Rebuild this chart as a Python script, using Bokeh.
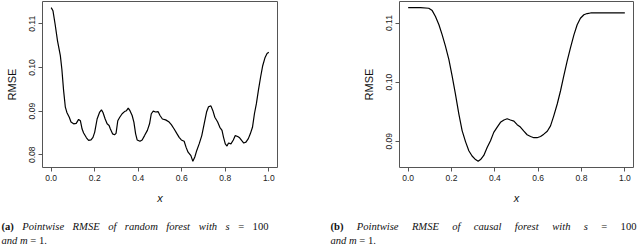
from bokeh.plotting import figure
from bokeh.models import Range1d, FixedTicker, Label
from bokeh.layouts import row, column
from bokeh.embed import file_html
from bokeh.resources import INLINE

# ---------------- data ----------------
rf_x = [0.000, 0.008, 0.018, 0.029, 0.042, 0.049, 0.057, 0.065, 0.072, 0.083,
        0.091, 0.103, 0.115, 0.126, 0.134, 0.142, 0.149, 0.162, 0.172, 0.183,
        0.192, 0.200, 0.211, 0.222, 0.231, 0.238, 0.248, 0.257, 0.266, 0.272,
        0.282, 0.291, 0.298, 0.306, 0.315, 0.326, 0.337, 0.346, 0.354, 0.362,
        0.372, 0.380, 0.388, 0.395, 0.408, 0.418, 0.429, 0.442, 0.452, 0.460,
        0.469, 0.480, 0.491, 0.500, 0.511, 0.526, 0.542, 0.552, 0.565, 0.577,
        0.588, 0.598, 0.611, 0.620, 0.629, 0.642, 0.651, 0.660, 0.669, 0.680,
        0.692, 0.703, 0.714, 0.723, 0.734, 0.743, 0.752, 0.765, 0.775, 0.785,
        0.792, 0.800, 0.808, 0.815, 0.826, 0.837, 0.846, 0.857, 0.866, 0.875,
        0.885, 0.895, 0.906, 0.915, 0.925, 0.934, 0.943, 0.952, 0.962, 0.972,
        0.983, 0.992, 1.000]
rf_rmse = [0.1137, 0.1130, 0.1099, 0.1061, 0.1027, 0.0996, 0.0947, 0.0909, 0.0897, 0.0886,
           0.0875, 0.0871, 0.0872, 0.0881, 0.0878, 0.0859, 0.0850, 0.0839, 0.0833, 0.0834,
           0.0840, 0.0852, 0.0882, 0.0897, 0.0903, 0.0897, 0.0882, 0.0871, 0.0867, 0.0859,
           0.0848, 0.0846, 0.0849, 0.0878, 0.0886, 0.0894, 0.0899, 0.0901, 0.0907, 0.0901,
           0.0890, 0.0875, 0.0848, 0.0834, 0.0831, 0.0834, 0.0844, 0.0856, 0.0871, 0.0894,
           0.0900, 0.0898, 0.0899, 0.0890, 0.0882, 0.0880, 0.0875, 0.0869, 0.0859, 0.0849,
           0.0840, 0.0834, 0.0831, 0.0817, 0.0806, 0.0798, 0.0785, 0.0795, 0.0810, 0.0825,
           0.0844, 0.0871, 0.0898, 0.0910, 0.0912, 0.0901, 0.0886, 0.0875, 0.0863, 0.0856,
           0.0840, 0.0825, 0.0820, 0.0827, 0.0825, 0.0834, 0.0844, 0.0842, 0.0839, 0.0833,
           0.0827, 0.0829, 0.0837, 0.0848, 0.0863, 0.0894, 0.0917, 0.0947, 0.0977, 0.1004,
           0.1023, 0.1032, 0.1035]

cf_x = [0.000, 0.057, 0.095, 0.111, 0.126, 0.142, 0.157, 0.172, 0.188, 0.203,
        0.218, 0.234, 0.249, 0.265, 0.280, 0.295, 0.311, 0.323, 0.334, 0.349,
        0.365, 0.380, 0.395, 0.411, 0.426, 0.442, 0.457, 0.472, 0.488, 0.503,
        0.518, 0.534, 0.549, 0.565, 0.580, 0.595, 0.611, 0.626, 0.642, 0.657,
        0.672, 0.688, 0.703, 0.718, 0.734, 0.749, 0.765, 0.780, 0.795, 0.811,
        0.826, 0.842, 0.872, 0.918, 1.000]
cf_rmse = [0.1126, 0.1126, 0.1125, 0.1121, 0.1111, 0.1097, 0.1080, 0.1061, 0.1038, 0.1010,
           0.0980, 0.0946, 0.0918, 0.0899, 0.0884, 0.0875, 0.0869, 0.0866, 0.0869, 0.0876,
           0.0890, 0.0901, 0.0915, 0.0924, 0.0932, 0.0936, 0.0938, 0.0936, 0.0934, 0.0928,
           0.0924, 0.0917, 0.0911, 0.0908, 0.0906, 0.0906, 0.0908, 0.0912, 0.0917, 0.0926,
           0.0943, 0.0963, 0.0985, 0.1010, 0.1036, 0.1058, 0.1080, 0.1097, 0.1108, 0.1114,
           0.1116, 0.1117, 0.1117, 0.1117, 0.1117]

x_ticks = [0.0, 0.2, 0.4, 0.6, 0.8, 1.0]
x_tick_labels = ["0.0", "0.2", "0.4", "0.6", "0.8", "1.0"]
rf_y_ticks = [0.08, 0.09, 0.10, 0.11]
rf_y_tick_labels = ["0.08", "0.09", "0.10", "0.11"]
cf_y_ticks = [0.09, 0.10, 0.11]
cf_y_tick_labels = ["0.09", "0.10", "0.11"]

x_label = "x"
y_label = "RMSE"

caption_a = [("(a)", "bold"), ("Pointwise", "italic"), ("RMSE", "italic"), ("of", "italic"),
             ("random", "italic"), ("forest", "italic"), ("with", "italic"), ("s", "italic"),
             ("=", "normal"), ("100", "normal")]
caption_b = [("(b)", "bold"), ("Pointwise", "italic"), ("RMSE", "italic"), ("of", "italic"),
             ("causal", "italic"), ("forest", "italic"), ("with", "italic"), ("s", "italic"),
             ("=", "normal"), ("100", "normal")]
caption_line2 = [("and", "italic"), ("m", "italic"), ("=", "normal"), ("1.", "normal")]

# ---------------- helpers ----------------
# Times metrics (per 1000 em) for caption justification
TIMES_W = {
    "bold": {"(": 333, ")": 333, "a": 500, "b": 556},
    "italic": {"P": 611, "o": 500, "i": 278, "n": 500, "t": 278, "w": 667, "s": 389,
               "e": 444, "R": 611, "M": 833, "S": 500, "E": 611, "f": 278, "r": 389,
               "a": 500, "d": 500, "m": 722, "c": 444, "u": 500, "l": 278, "h": 500},
    "normal": {"=": 564, "1": 500, "0": 500, ".": 250},
}
CAP_SIZE = 10.6
SERIF = "Liberation Serif"
SANS = "Liberation Sans"

TOTAL_W = 640
PLOT_W = 320
PLOT_H = 208
CAP_H = 37


def word_w(word, style):
    return sum(TIMES_W[style].get(ch, 500) for ch in word) * CAP_SIZE / 1000.0


def add_caption_line(p, words, x0, x1, y, justify=True):
    # positions relative to the caption frame's bottom-left corner, in pixels
    widths = [word_w(w, s) for w, s in words]
    if justify:
        gap = (x1 - x0 - sum(widths)) / (len(words) - 1)
    else:
        gap = 250 * CAP_SIZE / 1000.0
    x = x0
    for (w, s), wd in zip(words, widths):
        p.add_layout(Label(x=x, y=y, x_units="screen", y_units="screen", text=w,
                           text_font=SERIF, text_font_style=s,
                           text_font_size=f"{CAP_SIZE}px", text_color="#111111",
                           text_align="left", text_baseline="alphabetic"))
        x += wd + gap


def make_panel(xs, ys, yticks, ylabels, border_left, border_right):
    ymin, ymax = min(ys), max(ys)
    pad = 0.04 * (ymax - ymin)
    p = figure(width=PLOT_W, height=PLOT_H, output_backend="svg", toolbar_location=None,
               x_range=Range1d(-0.04, 1.04), y_range=Range1d(ymin - pad, ymax + pad),
               min_border_left=border_left, min_border_right=border_right,
               min_border_top=1, min_border_bottom=41,
               background_fill_color="white", border_fill_color="white")
    p.grid.visible = False
    p.outline_line_color = "#555555"
    p.outline_line_width = 1
    p.line(xs, ys, line_color="black", line_width=1.2)

    for ax, ticks, labels in ((p.xaxis[0], x_ticks, x_tick_labels),
                              (p.yaxis[0], yticks, ylabels)):
        ax.ticker = FixedTicker(ticks=ticks)
        ax.major_label_overrides = {t: l for t, l in zip(ticks, labels)}
        ax.minor_tick_line_color = None
        ax.axis_line_color = None
        ax.major_tick_line_color = "#555555"
        ax.major_tick_in = 0
        ax.major_tick_out = 4
        ax.major_label_standoff = 3
        ax.major_label_text_font = SANS
        ax.major_label_text_font_size = "8.5px"
        ax.major_label_text_color = "#222222"
        ax.axis_label_text_font = SANS
        ax.axis_label_text_font_size = "11px"
        ax.axis_label_text_color = "#111111"
    p.yaxis[0].major_label_orientation = "vertical"
    p.xaxis[0].axis_label = x_label
    p.xaxis[0].axis_label_text_font_style = "italic"
    p.xaxis[0].axis_label_standoff = 8
    p.yaxis[0].axis_label = y_label
    p.yaxis[0].axis_label_text_font_style = "normal"
    p.yaxis[0].axis_label_standoff = 9
    return p


p1 = make_panel(rf_x, rf_rmse, rf_y_ticks, rf_y_tick_labels, 42, 43)
p2 = make_panel(cf_x, cf_rmse, cf_y_ticks, cf_y_tick_labels, 79, 7)

cap = figure(width=TOTAL_W, height=CAP_H, output_backend="svg", toolbar_location=None,
             x_range=Range1d(0, TOTAL_W), y_range=Range1d(0, CAP_H),
             min_border=0, outline_line_color=None,
             background_fill_color="white", border_fill_color="white")
cap.axis.visible = False
cap.grid.visible = False
add_caption_line(cap, caption_a, 1, 268, 19, justify=True)
add_caption_line(cap, caption_line2, 1, 268, 5, justify=False)
add_caption_line(cap, caption_b, 330, 636, 19, justify=True)
add_caption_line(cap, caption_line2, 330, 636, 5, justify=False)

layout = column(row(p1, p2), cap)
open("out.html", "w").write(file_html(layout, INLINE))
